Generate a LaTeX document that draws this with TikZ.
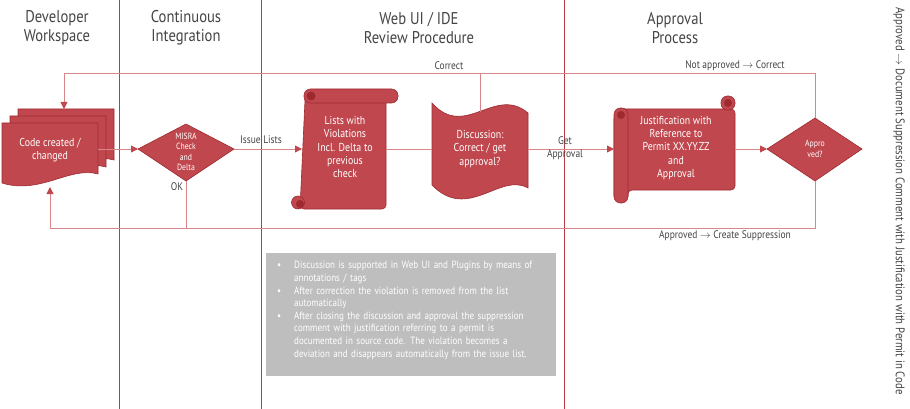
\documentclass[tikz,border=0pt]{standalone}
\usepackage{fontspec}
\setmainfont{PT Sans}[FakeStretch=0.86]
\usetikzlibrary{arrows.meta}
\definecolor{rf}{HTML}{C0474E}
\definecolor{rd}{HTML}{9E2A30}
\definecolor{rl}{HTML}{D9868A}
\definecolor{vl}{HTML}{B83A42}
\definecolor{gb}{HTML}{BEBEBE}
\definecolor{tx}{HTML}{444444}
\begin{document}
\begin{tikzpicture}[x=1pt,y=-1pt,
  shp/.style={fill=rf,draw=rd,line width=0.6pt},
  wt/.style={text=white,font=\fontsize{11.5}{13.3}\selectfont,align=center},
  lbl/.style={text=tx,font=\fontsize{11}{13}\selectfont,align=center},
  hd/.style={text=tx,font=\fontsize{17}{19}\selectfont,align=center},
  ln/.style={draw=rl,line width=0.9pt},
  ar/.style={ln,-{Triangle[length=7pt,width=7pt,fill=rf,color=rf]}}]
\useasboundingbox (0,0) rectangle (910,409);
% lanes
\foreach \x in {119,261,564} \draw[vl,line width=0.7pt] (\x,0) -- (\x,409);
\node[hd] (h1) at (57,28) {Developer\\Workspace};
\node[hd] (h2) at (186,28) {Continuous\\Integration};
\node[hd] (h3) at (419,28) {Web UI / IDE\\Review Procedure};
\node[hd] (h4) at (675,28) {Approval\\Process};
\node[text=tx,font=\fontsize{12.5}{14}\selectfont,rotate=-90] (side) at (899,201) {Approved $\rightarrow$ Document Suppression Comment with Justification with Permit in Code};
% doc stack
\foreach \dx/\dy in {16/-14,8/-7,0/0}{
 \draw[shp] (2+\dx,123+\dy) -- (98+\dx,123+\dy) -- (98+\dx,174+\dy) .. controls (70+\dx,166+\dy) and (40+\dx,195+\dy) .. (2+\dx,183+\dy) -- cycle;}
\node[wt] (doc) at (50,150) {Code created /\\changed};
\coordinate (docR) at (98,149);
\coordinate (docT) at (64,109);
\coordinate (docB) at (50,187);
% MISRA diamond
\draw[shp] (138,149) -- (186,124) -- (234,149) -- (186,181) -- cycle;
\node[wt,font=\fontsize{9}{10.5}\selectfont] (misra) at (186,152) {MISRA\\Check\\and\\Delta};
\coordinate (mL) at (138,149); \coordinate (mR) at (234,149); \coordinate (mB) at (186,181);
% scroll 1
\draw[shp,rounded corners=4pt] (305,95) -- (386,95) -- (386,209) -- (300,209) -- (305,100) -- cycle;
\draw[shp,rounded corners=6.5pt] (304,89) rectangle (398,103);
\fill[rd] (311,96) circle (4.5pt);
\draw[shp] (298,202.5) circle (6.5pt);
\fill[rd] (300,204) circle (4pt);
\node[wt] (s1) at (345,147) {Lists with\\Violations\\Incl. Delta to\\previous\\check};
\coordinate (s1L) at (302,149); \coordinate (s1R) at (386,149);
% wave
\draw[shp] (432,103) .. controls (465,140) and (495,85) .. (528,113) -- (528,188) .. controls (500,172) and (468,222) .. (432,185) -- cycle;
\node[wt] (wave) at (480,149) {Discussion:\\Correct / get\\approval?};
\coordinate (wL) at (432,149); \coordinate (wR) at (528,149); \coordinate (wT) at (480,112);
% scroll 2
\draw[shp,rounded corners=4pt] (620,109) -- (735,109) -- (735,190) -- (628,190) -- (628,200) -- (614,200) -- (614,115) -- cycle;
\draw[shp,rounded corners=6.5pt] (614,108) rectangle (628,203);
\fill[rd] (621,115) circle (4pt);
\draw[shp,rounded corners=6.5pt] (721,96) rectangle (735,110);
\fill[rd] (728,103) circle (4pt);
\node[wt] (s2) at (676,148) {Justification with\\Reference to\\Permit XX.YY.ZZ\\and\\Approval};
\coordinate (s2L) at (614,149); \coordinate (s2R) at (735,149);
% approved diamond
\draw[shp] (767,149) -- (815,118) -- (862,149) -- (815,181) -- cycle;
\node[wt,font=\fontsize{9}{10.5}\selectfont] (appr) at (815,149) {Appro\\ved?};
\coordinate (aL) at (767,149); \coordinate (aT) at (815,118); \coordinate (aB) at (815,181);
% connectors
\draw[ar] (docR) -- (mL);
\draw[ar] (mR) -- (s1L);
\draw[ln] (s1R) -- (wL);
\draw[ar] (wR) -- (s2L);
\draw[ar] (s2R) -- (aL);
\coordinate (tR) at (815,73); \coordinate (tL) at (64,73); \coordinate (tW) at (480,73);
\draw[ar] (aT) -- (tR) -- (tL) -- (docT);
\draw[ln] (wT) -- (tW);
\coordinate (bR) at (815,228); \coordinate (bL) at (50,228); \coordinate (bM) at (186,228);
\draw[ar] (aB) -- (bR) -- (bL) -- (docB);
\draw[ln] (mB) -- (bM);
\node[lbl] (l1) at (261,140) {Issue Lists};
\node[lbl] (l2) at (177,187) {OK};
\node[lbl] (l3) at (565,148) {Get\\Approval};
\node[lbl] (l4) at (449,66) {Correct};
\node[lbl] (l5) at (735,66) {Not approved $\rightarrow$ Correct};
\node[lbl] (l6) at (725,236) {Approved $\rightarrow$ Create Suppression};
% grey box
\fill[gb] (266,253) rectangle (556,376);
\node[text=white,font=\fontsize{10.5}{12.6}\selectfont,text width=272pt,anchor=north west,inner sep=0pt] (box) at (273,256) {%
\begin{list}{•}{\leftmargin=21pt\labelsep=13pt\itemsep=0pt\parsep=0pt\topsep=0pt}
\item Discussion is supported in Web UI and Plugins by means of annotations / tags
\item After correction the violation is removed from the list automatically
\item After closing the discussion and approval the suppression comment with justification referring to a permit is documented in source code. The violation becomes a deviation and disappears automatically from the issue list.
\end{list}};
\end{tikzpicture}
\end{document}
